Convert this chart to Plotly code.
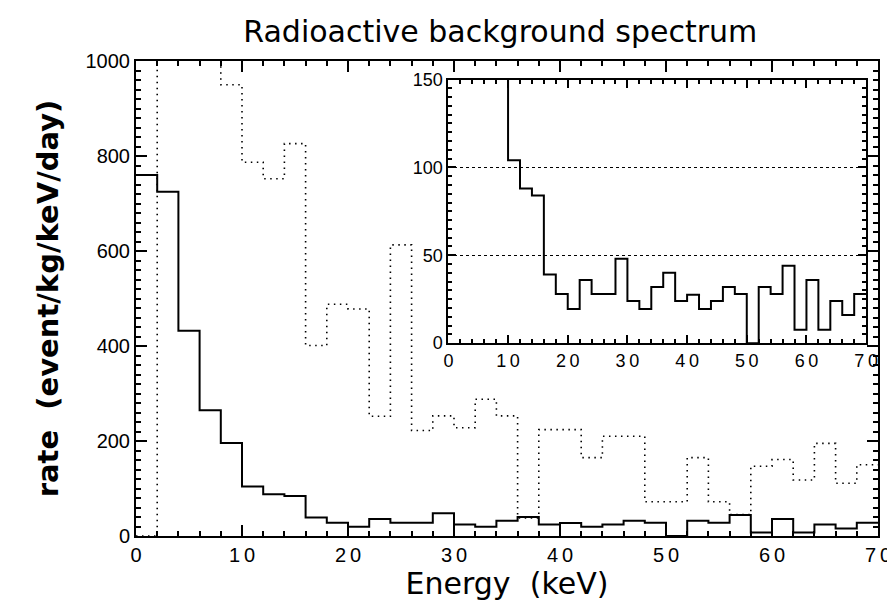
import plotly.graph_objects as go

# bin edges (keV), 2 keV bins from 0 to 70
edges = list(range(0, 72, 2))

# solid histogram: measured background rate
solid_rate = [760, 725, 432, 265, 196, 104, 88, 84, 39, 28, 19.5, 36, 28, 28, 48,
              24, 19.5, 32, 40, 24, 27.5, 19.5, 24, 32, 28, 0, 32, 28, 44, 7.6,
              36, 7.6, 24, 16, 28]

# dotted histogram (off scale above 1000 for 2-8 keV)
dotted_rate = [0, 1100, 1100, 1100, 950, 787, 752, 826, 401, 488, 478, 252, 613, 222,
               253, 228, 288, 253, 38, 224, 224, 165, 210, 210, 72, 72, 165, 72, 45,
               147, 161, 118, 195, 111, 150]

main_xticks = [0, 10, 20, 30, 40, 50, 60, 70]
main_yticks = [0, 200, 400, 600, 800, 1000]
inset_yticks = [0, 50, 100, 150]


def spaced(v):
    return "\u2009".join(str(v))


font = "Liberation Sans, Arial, sans-serif"
wide = "DejaVu Sans, sans-serif"

fig = go.Figure()

fig.add_trace(go.Scatter(
    x=edges, y=dotted_rate + [dotted_rate[-1]], mode="lines", line_shape="hv",
    line=dict(color="black", width=1.6, dash="1.5px,4.5px"),
    xaxis="x", yaxis="y", showlegend=False))
fig.add_trace(go.Scatter(
    x=edges, y=solid_rate + [solid_rate[-1]], mode="lines", line_shape="hv",
    line=dict(color="black", width=2),
    xaxis="x", yaxis="y", showlegend=False))

# inset: same solid spectrum, zoomed in y
fig.add_trace(go.Scatter(
    x=edges, y=solid_rate + [solid_rate[-1]], mode="lines", line_shape="hv",
    line=dict(color="black", width=2),
    xaxis="x2", yaxis="y2", showlegend=False))

axis_common = dict(showline=True, linecolor="black", linewidth=2, mirror="ticks",
                   ticks="inside", tickcolor="black", tickwidth=1.5, showgrid=False,
                   zeroline=False)

fig.update_layout(
    width=895, height=606,
    margin=dict(l=128, r=20, t=53, b=78),
    paper_bgcolor="white", plot_bgcolor="white",
    title=dict(text="Radioactive background spectrum", x=0.55, xanchor="center",
               y=0.978, yanchor="top",
               font=dict(family=wide, size=30, color="black")),
    xaxis=dict(range=[0, 70], tickvals=main_xticks,
               ticktext=[spaced(v) for v in main_xticks], ticklen=11,
               minor=dict(dtick=2, ticklen=5, ticks="inside", tickcolor="black"),
               tickfont=dict(family=font, size=20, color="black"),
               title=dict(text="Energy  (keV)", standoff=4,
                          font=dict(family=wide, size=30, color="black")),
               **axis_common),
    yaxis=dict(range=[0, 1000], tickvals=main_yticks, ticklen=11,
               minor=dict(dtick=20, ticklen=5, ticks="inside", tickcolor="black"),
               tickfont=dict(family=font, size=20, color="black"),
               title=dict(text="<b>rate  (event/kg/keV/day)</b>", standoff=18,
                          font=dict(family=wide, size=29, color="black")),
               **axis_common),
    xaxis2=dict(domain=[0.421, 0.984], anchor="y2", range=[0, 70],
                tickvals=main_xticks, ticktext=[spaced(v) for v in main_xticks],
                ticklen=8, minor=dict(dtick=2, ticklen=4, ticks="inside",
                                      tickcolor="black"),
                tickfont=dict(family=font, size=18, color="black"),
                **axis_common),
    yaxis2=dict(domain=[0.406, 0.961], anchor="x2", range=[0, 150],
                tickvals=inset_yticks, ticklen=8,
                minor=dict(dtick=5, ticklen=4, ticks="inside", tickcolor="black"),
                tickfont=dict(family=font, size=18, color="black"),
                **{k: v for k, v in axis_common.items() if k != "showgrid"},
                showgrid=True, gridcolor="black", griddash="dot", gridwidth=1.2),
)

fig.write_html("out.html")
